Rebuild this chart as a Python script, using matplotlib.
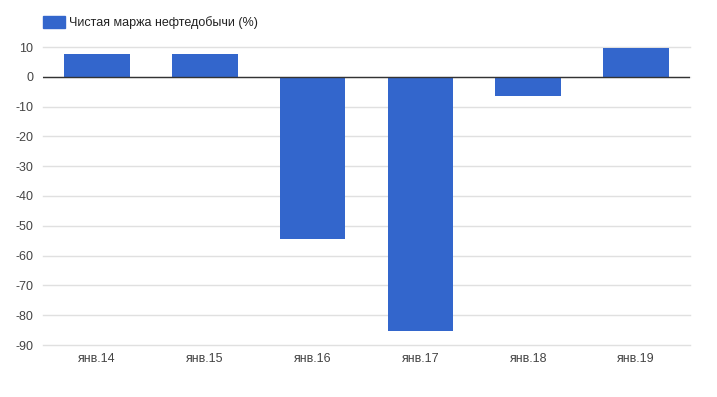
import numpy as np
import matplotlib
matplotlib.use('Agg')
import matplotlib.pyplot as plt
from matplotlib.patches import Rectangle

# data
categories = ['янв.14', 'янв.15', 'янв.16', 'янв.17', 'янв.18', 'янв.19']
margin = [7.5, 7.5, -54.4, -85.3, -6.5, 9.8]
series_name = 'Чистая маржа нефтедобычи (%)'
y_ticks = [10, 0, -10, -20, -30, -40, -50, -60, -70, -80, -90]

plt.rcParams['font.family'] = ['Liberation Sans', 'DejaVu Sans']

fig = plt.figure(figsize=(7.17, 3.97), dpi=100)
ax = fig.add_axes([43 / 717, 1 - 345 / 397, 647 / 717, 298 / 397])

x = np.arange(len(categories))
ax.bar(x, margin, width=0.61, color='#3366cc', zorder=3)

ax.set_xlim(-0.5, len(categories) - 0.5)
ax.set_ylim(-90, 10)
ax.set_yticks(y_ticks)
ax.set_yticklabels([str(t) for t in y_ticks])
ax.set_xticks(x)
ax.set_xticklabels(categories)

# gridlines and baseline
ax.grid(axis='y', color='#e0e0e0', linewidth=1, zorder=0)
for gl in ax.get_ygridlines():
    gl.set_clip_on(False)
ax.axhline(0, color='#333333', linewidth=1, zorder=4)

for s in ax.spines.values():
    s.set_visible(False)
ax.tick_params(axis='both', length=0, labelsize=9, labelcolor='#444444')
ax.tick_params(axis='y', pad=7)
ax.tick_params(axis='x', pad=6)

# legend at top left
fig.patches.append(Rectangle((43 / 717, 1 - 28 / 397), 22 / 717, 12 / 397,
                             transform=fig.transFigure, color='#3366cc'))
fig.text(69 / 717, 1 - 23 / 397, series_name, fontsize=9, color='#222222', va='center')

fig.savefig('out.png', dpi=100)
